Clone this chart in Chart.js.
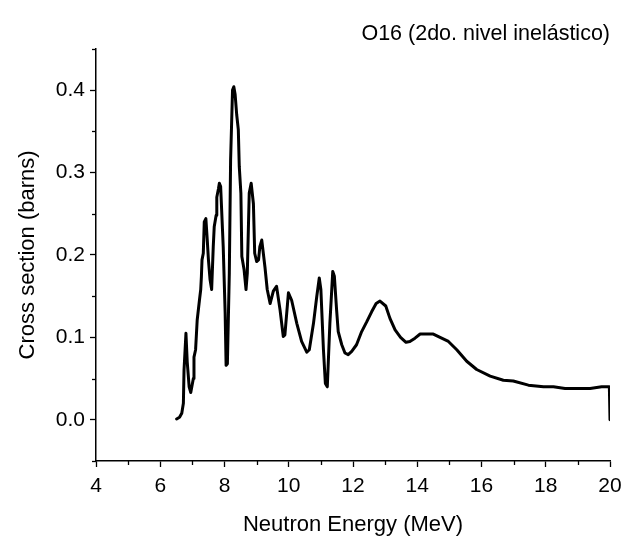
<!DOCTYPE html>
<html>
<head>
<meta charset="utf-8">
<script src="https://cdn.jsdelivr.net/npm/chart.js@4.4.1/dist/chart.umd.min.js"></script>
<style>
  html, body { margin: 0; padding: 0; background: #fff; }
  #wrap { width: 623px; height: 544px; }
</style>
</head>
<body>
<div id="wrap"><canvas id="c" width="623" height="544"></canvas></div>
<script>
const chartTitle = "O16 (2do. nivel inelástico)";
const xTitle = "Neutron Energy (MeV)";
const yTitle = "Cross section (barns)";

const energy = [6.51, 6.60, 6.67, 6.72, 6.74, 6.80, 6.84, 6.90, 6.95, 7.03, 7.05, 7.10, 7.15, 7.22, 7.26, 7.28, 7.30, 7.34, 7.37, 7.42, 7.46, 7.50, 7.55, 7.60, 7.65, 7.68, 7.74, 7.76, 7.81, 7.84, 7.88, 7.96, 8.02, 8.05, 8.09, 8.15, 8.19, 8.25, 8.29, 8.33, 8.38, 8.43, 8.46, 8.51, 8.54, 8.61, 8.67, 8.71, 8.77, 8.83, 8.90, 8.94, 9.00, 9.06, 9.10, 9.16, 9.26, 9.33, 9.42, 9.52, 9.62, 9.73, 9.83, 9.88, 9.99, 10.09, 10.25, 10.40, 10.56, 10.64, 10.77, 10.87, 10.95, 11.00, 11.08, 11.14, 11.20, 11.28, 11.37, 11.42, 11.49, 11.54, 11.65, 11.75, 11.85, 11.96, 12.11, 12.27, 12.43, 12.58, 12.72, 12.84, 13.02, 13.15, 13.31, 13.48, 13.65, 13.77, 13.93, 14.09, 14.50, 14.71, 14.97, 15.23, 15.54, 15.85, 16.27, 16.68, 16.99, 17.46, 17.93, 18.24, 18.60, 19.38, 19.74, 19.98, 20.00];
const crossSection = [0.001, 0.003, 0.008, 0.020, 0.060, 0.105, 0.070, 0.040, 0.033, 0.050, 0.076, 0.085, 0.121, 0.145, 0.158, 0.173, 0.194, 0.202, 0.240, 0.244, 0.220, 0.194, 0.170, 0.158, 0.210, 0.234, 0.248, 0.270, 0.280, 0.287, 0.283, 0.210, 0.130, 0.066, 0.068, 0.178, 0.315, 0.400, 0.404, 0.395, 0.370, 0.352, 0.307, 0.275, 0.198, 0.182, 0.158, 0.178, 0.275, 0.287, 0.262, 0.202, 0.192, 0.194, 0.210, 0.218, 0.185, 0.158, 0.141, 0.156, 0.162, 0.133, 0.101, 0.103, 0.154, 0.145, 0.117, 0.095, 0.082, 0.085, 0.117, 0.149, 0.172, 0.158, 0.085, 0.044, 0.040, 0.117, 0.180, 0.174, 0.133, 0.107, 0.091, 0.081, 0.079, 0.083, 0.091, 0.107, 0.119, 0.131, 0.141, 0.144, 0.138, 0.123, 0.109, 0.100, 0.094, 0.095, 0.099, 0.104, 0.104, 0.100, 0.095, 0.085, 0.071, 0.061, 0.053, 0.048, 0.047, 0.042, 0.040, 0.040, 0.038, 0.038, 0.040, 0.040, 0.000];

const xMin = 4, xMax = 20, xMajor = 2, xMinor = 1;
const yMin = -0.05, yMax = 0.45, yMajor = 0.1, yMinor = 0.05;

const FONT = "'Liberation Sans', Arial, sans-serif";

function isMajor(v, step) {
  const r = v / step;
  return Math.abs(r - Math.round(r)) < 1e-6;
}

const points = energy.map((e, i) => ({ x: e, y: crossSection[i] }));

const minorTicks = {
  id: 'minorTicks',
  afterDraw(chart) {
    const ctx = chart.ctx;
    ctx.save();
    ctx.strokeStyle = '#000';
    ctx.lineWidth = 1.3;
    const xs = chart.scales.x, ys = chart.scales.y;
    for (const t of xs.ticks) {
      if (isMajor(t.value, xMajor)) continue;
      const px = Math.round(xs.getPixelForValue(t.value)) + 0.5;
      ctx.beginPath();
      ctx.moveTo(px, xs.top);
      ctx.lineTo(px, xs.top + 4);
      ctx.stroke();
    }
    for (const t of ys.ticks) {
      if (isMajor(t.value, yMajor)) continue;
      const py = Math.round(ys.getPixelForValue(t.value)) + 0.5;
      ctx.beginPath();
      ctx.moveTo(ys.right, py);
      ctx.lineTo(ys.right - 4, py);
      ctx.stroke();
    }
    ctx.restore();
  }
};

new Chart(document.getElementById('c'), {
  type: 'line',
  data: {
    datasets: [{
      data: points,
      borderColor: '#000',
      borderWidth: 3,
      borderJoinStyle: 'round',
      borderCapStyle: 'round',
      pointRadius: 0,
      tension: 0,
      fill: false
    }]
  },
  options: {
    responsive: false,
    animation: false,
    layout: { padding: { top: 0, right: 13, bottom: 0, left: 0 } },
    plugins: {
      legend: { display: false },
      tooltip: { enabled: false },
      title: {
        display: true,
        text: chartTitle,
        align: 'end',
        color: '#000',
        font: { family: FONT, size: 21.5, weight: 'normal' },
        padding: { top: 21, bottom: 2 }
      }
    },
    scales: {
      x: {
        type: 'linear',
        min: xMin, max: xMax,
        afterFit(s) { s.height = 83; s.paddingRight = 0; s.paddingLeft = 0; },
        ticks: {
          stepSize: xMinor,
          color: '#000',
          font: { family: FONT, size: 21 },
          padding: 7,
          maxRotation: 0,
          autoSkip: false,
          callback: v => isMajor(v, xMajor) ? String(v) : ''
        },
        grid: {
          drawOnChartArea: false,
          drawTicks: true,
          tickLength: 6,
          tickWidth: 1.3,
          tickColor: ctx => (ctx.tick && isMajor(ctx.tick.value, xMajor)) ? '#000' : 'rgba(0,0,0,0)'
        },
        border: { display: true, color: '#000', width: 1.5 },
        title: {
          display: true,
          text: xTitle,
          color: '#000',
          font: { family: FONT, size: 22 },
          padding: { top: 0, bottom: 6 }
        }
      },
      y: {
        type: 'linear',
        min: yMin, max: yMax,
        afterFit(s) { s.width = 96; },
        ticks: {
          stepSize: yMinor,
          color: '#000',
          font: { family: FONT, size: 21 },
          padding: 5,
          autoSkip: false,
          callback: v => isMajor(v, yMajor) ? (Math.round(v * 10) / 10).toFixed(1) : ''
        },
        grid: {
          drawOnChartArea: false,
          drawTicks: true,
          tickLength: 6,
          tickWidth: 1.3,
          tickColor: ctx => (ctx.tick && isMajor(ctx.tick.value, yMajor)) ? '#000' : 'rgba(0,0,0,0)'
        },
        border: { display: true, color: '#000', width: 1.5 },
        title: {
          display: true,
          text: yTitle,
          color: '#000',
          font: { family: FONT, size: 22 },
          padding: { top: 15, bottom: 0 }
        }
      }
    }
  },
  plugins: [minorTicks]
});
</script>
</body>
</html>
